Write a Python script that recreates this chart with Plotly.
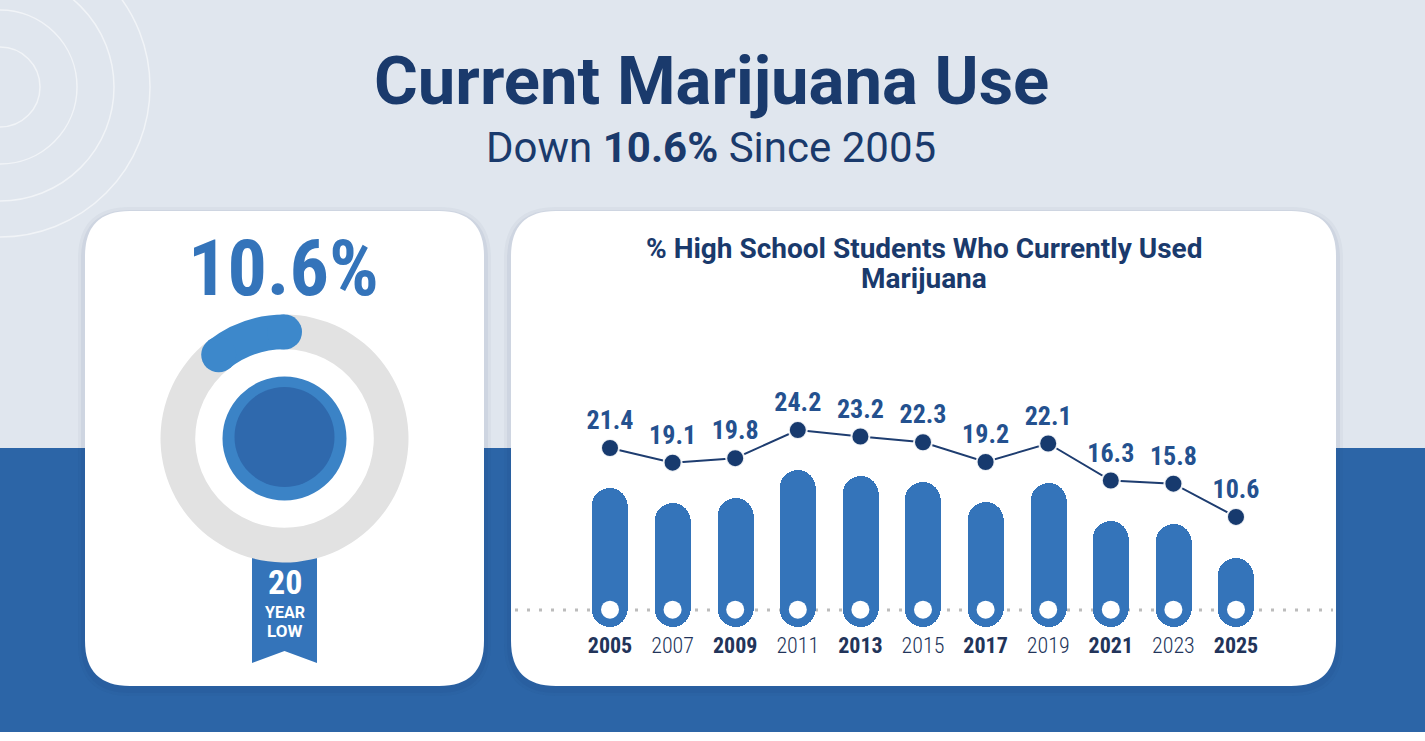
import math
import plotly.graph_objects as go

years = ["2005", "2007", "2009", "2011", "2013", "2015", "2017", "2019", "2021", "2023", "2025"]
pct_used = [21.4, 19.1, 19.8, 24.2, 23.2, 22.3, 19.2, 22.1, 16.3, 15.8, 10.6]
bold_years = ["2005", "2009", "2013", "2017", "2021", "2025"]
latest = pct_used[-1]
low_years = 20

W, H = 1425, 741
NAVY = "#1a3a6c"
BLUE = "#3474ba"
BG_TOP = "#e0e6ee"
BG_BOT = "#2c65a7"
COND = "Roboto Condensed, Liberation Sans Narrow, Roboto, sans-serif"
BASE = 2.7  # baseline (white holes) in bar-axis units


def px(x):
    return x / W


def py(y):
    return 1 - y / H


def rrect(x0, y0, x1, y1, r):
    pts = [
        ("M", x0 + r, y0), ("L", x1 - r, y0), ("Q", x1, y0, x1, y0 + r),
        ("L", x1, y1 - r), ("Q", x1, y1, x1 - r, y1), ("L", x0 + r, y1),
        ("Q", x0, y1, x0, y1 - r), ("L", x0, y0 + r), ("Q", x0, y0, x0 + r, y0),
    ]
    out = ""
    for p in pts:
        coords = p[1:]
        s = " ".join(f"{px(coords[i]):.5f},{py(coords[i + 1]):.5f}" for i in range(0, len(coords), 2))
        out += f"{p[0]} {s} "
    return out + "Z"


def circle(cx, cy, r, layer="below", **kw):
    return dict(type="circle", xref="paper", yref="paper", layer=layer,
                x0=px(cx - r), x1=px(cx + r), y0=py(cy + r), y1=py(cy - r), **kw)


shapes = [
    dict(type="rect", xref="paper", yref="paper", layer="below", x0=0, x1=1, y0=py(448), y1=1,
         fillcolor=BG_TOP, line_width=0),
    dict(type="rect", xref="paper", yref="paper", layer="below", x0=0, x1=1, y0=py(732), y1=py(448),
         fillcolor=BG_BOT, line_width=0),
]
for r in [40, 77, 114, 150]:
    shapes.append(circle(0, 87, r, line=dict(color="rgba(255,255,255,0.55)", width=1.5)))

for (x0, x1) in [(85, 484), (511, 1336)]:
    for grow, alpha in [(7, 0.035), (4, 0.05)]:
        shapes.append(dict(type="path", xref="paper", yref="paper", layer="below",
                           path=rrect(x0 - grow, 211 - grow + 3, x1 + grow, 686 + grow + 3, 45 + grow),
                           fillcolor=f"rgba(20,45,90,{alpha})", line_width=0))
    shapes.append(dict(type="path", xref="paper", yref="paper", layer="below",
                       path=rrect(x0, 211, x1, 686, 45), fillcolor="white", line_width=0))

shapes.append(dict(type="line", xref="paper", yref="paper", layer="below",
                   x0=px(515), x1=px(1333), y0=py(610), y1=py(610),
                   line=dict(color="#bcbcbc", width=3, dash="3px,9px")))

rib = (f"M {px(252):.5f},{py(556):.5f} L {px(317):.5f},{py(556):.5f} "
       f"L {px(317):.5f},{py(663):.5f} L {px(284.5):.5f},{py(651):.5f} "
       f"L {px(252):.5f},{py(663):.5f} Z")
shapes.append(dict(type="path", xref="paper", yref="paper", layer="below", path=rib,
                   fillcolor=BLUE, line_width=0))

# donut centre disc
CX, CY, R_OUT, R_IN = 284.5, 438.5, 124, 89
shapes.append(circle(CX, CY, 62, fillcolor="#3b83c6", line_width=0))
shapes.append(circle(CX, CY - 1.5, 50, fillcolor="#2f69ad", line_width=0))

# rounded caps at both ends of the highlighted arc (arc runs counterclockwise from 12 o'clock)
ARC = "#3d88cb"
r_mid = (R_OUT + R_IN) / 2
cap = (R_OUT - R_IN) / 2
for ang in [0.0, -latest / 100 * 2 * math.pi]:
    shapes.append(circle(CX + r_mid * math.sin(ang), CY - r_mid * math.cos(ang), cap,
                         layer="above", fillcolor=ARC, line_width=0))

fig = go.Figure()

# pill bars
fig.add_trace(go.Bar(x=years, y=pct_used, base=0, width=0.575,
                     marker=dict(color=BLUE, cornerradius=18, line_width=0),
                     hoverinfo="skip", showlegend=False))
fig.add_trace(go.Scatter(x=years, y=[BASE] * len(years), mode="markers",
                         marker=dict(color="white", size=18, line_width=0),
                         hoverinfo="skip", showlegend=False))
# trend line with value labels
fig.add_trace(go.Scatter(x=years, y=pct_used, yaxis="y2", mode="lines+markers+text",
                         line=dict(color="#1e3d70", width=2),
                         marker=dict(color="#173a6e", size=18, line=dict(color="rgba(255,255,255,0.9)", width=2)),
                         text=[f"{v:.1f}" for v in pct_used], textposition="top center",
                         textfont=dict(family=COND, size=26, color="#24518f", weight=700),
                         cliponaxis=False, hoverinfo="skip", showlegend=False))

# donut: grey remainder first so the highlighted share runs left from 12 o'clock
fig.add_trace(go.Pie(values=[100 - latest, latest], hole=0.72, sort=False,
                     direction="counterclockwise", rotation=0,
                     marker=dict(colors=["#e2e2e2", ARC], line_width=0),
                     textinfo="none", hoverinfo="skip", showlegend=False,
                     domain=dict(x=[px(CX - R_OUT), px(CX + R_OUT)], y=[py(CY + R_OUT), py(CY - R_OUT)])))

ticktext = [f"<b>{y}</b>" if y in bold_years else y for y in years]

annotations = [
    dict(text="Current Marijuana Use", x=px(711), y=py(81), font=dict(family="Roboto", size=67, color=NAVY, weight=700)),
    dict(text=f"Down <b>{latest}%</b> Since 2005", x=px(711), y=py(147), font=dict(family="Roboto", size=42, color=NAVY)),
    dict(text="% High School Students Who Currently Used", x=px(923.5), y=py(248),
         font=dict(family="Roboto", size=28, color=NAVY, weight=700)),
    dict(text="Marijuana", x=px(923.5), y=py(278),
         font=dict(family="Roboto", size=28, color=NAVY, weight=700)),
    dict(text=f"{latest}%", x=px(283), y=py(268), font=dict(family=COND, size=78, color=BLUE, weight=700)),
    dict(text=str(low_years), x=px(284.5), y=py(582), font=dict(family=COND, size=34, color="white", weight=700)),
    dict(text="YEAR", x=px(284.5), y=py(612), font=dict(family="Roboto", size=16, color="white", weight=700)),
    dict(text="LOW", x=px(284.5), y=py(631), font=dict(family="Roboto", size=17, color="white", weight=700)),
]
for a in annotations:
    a.update(xref="paper", yref="paper", showarrow=False, xanchor="center", yanchor="middle")

fig.update_layout(
    width=W, height=H, margin=dict(l=0, r=0, t=0, b=0),
    paper_bgcolor="white", plot_bgcolor="rgba(0,0,0,0)",
    barmode="overlay", bargap=0,
    shapes=shapes, annotations=annotations,
    xaxis=dict(domain=[px(578.7), px(1267.3)], type="category", range=[-0.5, 10.5],
               tickmode="array", tickvals=years, ticktext=ticktext,
               tickfont=dict(family=COND, size=22, color="#22345a", weight=300),
               showgrid=False, zeroline=False, showline=False, ticks=""),
    yaxis=dict(domain=[py(630), py(370)], range=[-0.41, 39.46], visible=False, fixedrange=True),
    yaxis2=dict(overlaying="y", range=[-7.13, 33.62], visible=False),
)

fig.write_html("out.html", config={"displayModeBar": False},
               post_script="document.body.style.margin='0';")
